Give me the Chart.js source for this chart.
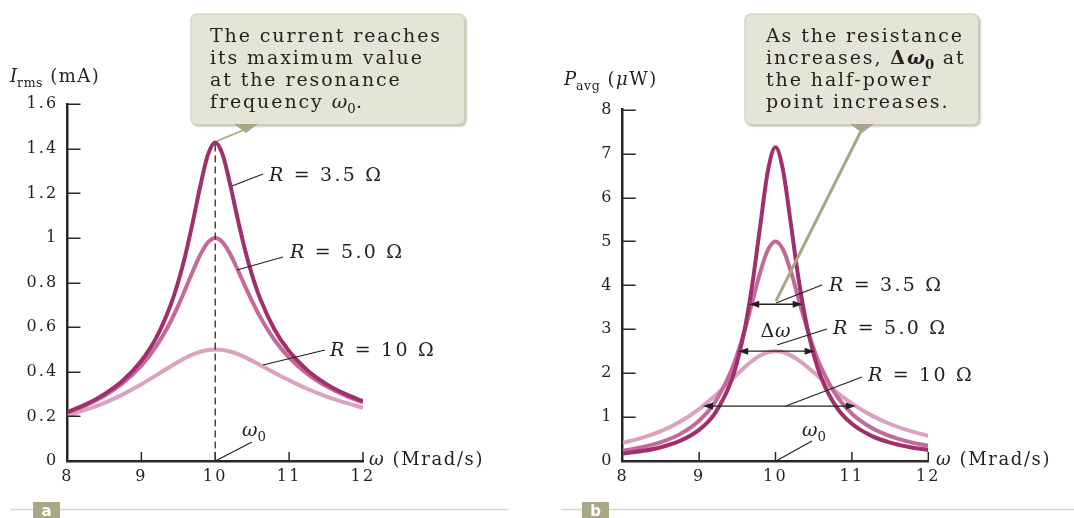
<!DOCTYPE html>
<html>
<head>
<meta charset="utf-8">
<script src="https://cdn.jsdelivr.net/npm/chart.js@4.4.1/dist/chart.umd.min.js"></script>
<style>
  html, body { margin: 0; padding: 0; background: #fff; }
  #wrap { position: relative; width: 1074px; height: 518px; overflow: hidden; }
  canvas { position: absolute; top: 0; }
</style>
</head>
<body>
<div id="wrap">
  <canvas id="chartA" width="537" height="518" style="left:0;width:537px;height:518px"></canvas>
  <canvas id="chartB" width="537" height="518" style="left:537px;width:537px;height:518px"></canvas>
</div>
<script>
// angular frequency, Mrad/s
const omega = [8, 8.25, 8.5, 8.75, 9, 9.2, 9.4, 9.5, 9.6, 9.7, 9.8, 9.9, 10,
  10.1, 10.2, 10.3, 10.4, 10.5, 10.6, 10.8, 11, 11.25, 11.5, 11.75, 12];

// I_rms (mA) for R = 3.5, 5.0, 10 ohm
const irms35 = [0.220, 0.254, 0.300, 0.361, 0.450, 0.552, 0.703, 0.805, 0.930, 1.078, 1.237, 1.373, 1.429,
  1.374, 1.243, 1.091, 0.951, 0.833, 0.735, 0.591, 0.492, 0.406, 0.346, 0.302, 0.268];
const irms50 = [0.217, 0.250, 0.293, 0.350, 0.428, 0.514, 0.628, 0.698, 0.775, 0.854, 0.927, 0.980, 1.000,
  0.981, 0.930, 0.861, 0.787, 0.716, 0.651, 0.544, 0.464, 0.390, 0.336, 0.295, 0.263];
const irms100 = [0.203, 0.230, 0.261, 0.299, 0.344, 0.384, 0.425, 0.445, 0.463, 0.478, 0.490, 0.498, 0.500,
  0.498, 0.491, 0.480, 0.466, 0.449, 0.432, 0.396, 0.362, 0.323, 0.290, 0.263, 0.239];

// P_avg (uW) for R = 3.5, 5.0, 10 ohm
const pavg35 = [0.169, 0.226, 0.314, 0.457, 0.708, 1.068, 1.730, 2.268, 3.025, 4.064, 5.358, 6.599, 7.143,
  6.609, 5.411, 4.169, 3.166, 2.426, 1.892, 1.222, 0.847, 0.577, 0.419, 0.319, 0.251];
const pavg50 = [0.235, 0.313, 0.429, 0.612, 0.916, 1.320, 1.974, 2.435, 3.000, 3.646, 4.298, 4.806, 5.000,
  4.810, 4.322, 3.705, 3.095, 2.560, 2.119, 1.482, 1.077, 0.761, 0.564, 0.435, 0.346];
const pavg100 = [0.412, 0.527, 0.682, 0.895, 1.183, 1.473, 1.807, 1.979, 2.143, 2.288, 2.402, 2.475, 2.500,
  2.476, 2.406, 2.299, 2.167, 2.019, 1.866, 1.569, 1.308, 1.045, 0.843, 0.690, 0.573];

// half-power widths (arrows in b)
const halfLevel = [3.57, 2.5, 1.25];
const halfLo = [9.656, 9.512, 9.05];
const halfHi = [10.356, 10.512, 11.05];

const seriesNames = ['R = 3.5 Ω', 'R = 5.0 Ω', 'R = 10 Ω'];
const xTicks = [8, 9, 10, 11, 12];
const yTicksA = [0, 0.2, 0.4, 0.6, 0.8, 1, 1.2, 1.4, 1.6];
const yLabelsA = ['0', '0.2', '0.4', '0.6', '0.8', '1', '1.2', '1.4', '1.6'];
const yTicksB = [0, 1, 2, 3, 4, 5, 6, 7, 8];
const yLabelsB = ['0', '1', '2', '3', '4', '5', '6', '7', '8'];

const SERIF = '"DejaVu Serif", "Liberation Serif", serif';
const TXT = '#231f20';
const AXIS = '#2a2627';
const OLIVE = '#a8a787';
const colors = ['#a0306c', '#c4699a', '#dba2c0'];
const OFF_B = 537;

// parts: [text, style]; style letters: i italic, b bold, s subscript
function richText(ctx, parts, x, y, size, align, spacing) {
  const sp = spacing === undefined ? 2 : spacing;
  ctx.save();
  ctx.fillStyle = TXT;
  ctx.textBaseline = 'alphabetic';
  ctx.textAlign = 'left';
  const setFont = st => {
    const sub = st.includes('s');
    ctx.font = (st.includes('i') ? 'italic ' : '') + (st.includes('b') ? 'bold ' : '') +
      (sub ? size * 0.7 : size) + 'px ' + SERIF;
    ctx.letterSpacing = (sub ? 0.5 : sp) + 'px';
  };
  const adv = (p, i) => {
    setFont(p[1] || '');
    let w = ctx.measureText(p[0]).width;
    const nx = parts[i + 1];
    if (nx && (nx[1] || '').includes('s')) w -= sp;
    return w;
  };
  let w = 0;
  parts.forEach((p, i) => { w += adv(p, i); });
  let cx = align === 'center' ? x - w / 2 : align === 'right' ? x - w : x;
  parts.forEach((p, i) => {
    const st = p[1] || '';
    const a = adv(p, i);
    ctx.fillText(p[0], cx, st.includes('s') ? y + size * 0.25 : y);
    cx += a;
  });
  ctx.restore();
}

function line(ctx, x0, y0, x1, y1, color, w) {
  ctx.save();
  ctx.strokeStyle = color; ctx.lineWidth = w;
  ctx.beginPath(); ctx.moveTo(x0, y0); ctx.lineTo(x1, y1); ctx.stroke();
  ctx.restore();
}

function callout(ctx, x0, y0, x1, y1, wx, tail, lines, tx) {
  ctx.save();
  ctx.shadowColor = 'rgba(60,60,40,0.35)';
  ctx.shadowOffsetX = 1.5; ctx.shadowOffsetY = 1.5; ctx.shadowBlur = 2;
  ctx.fillStyle = '#e5e5d7';
  ctx.beginPath(); ctx.roundRect(x0, y0, x1 - x0, y1 - y0, 6); ctx.fill();
  ctx.restore();
  ctx.save();
  ctx.strokeStyle = '#cfcfba'; ctx.lineWidth = 1;
  ctx.beginPath(); ctx.roundRect(x0 + 0.5, y0 + 0.5, x1 - x0 - 1, y1 - y0 - 1, 6); ctx.stroke();
  ctx.fillStyle = OLIVE;
  ctx.beginPath(); ctx.moveTo(wx - 12, y1 - 1); ctx.lineTo(wx + 12, y1 - 1); ctx.lineTo(wx, y1 + 8); ctx.closePath(); ctx.fill();
  ctx.restore();
  line(ctx, wx, y1 + 4, tail[0], tail[1], OLIVE, tail[2]);
  lines.forEach((ln, i) => richText(ctx, ln, tx, 41.7 + i * 22.2, 19, 'left', 1.9));
}

function innerTicks(chart, yTicks) {
  const ctx = chart.ctx, sx = chart.scales.x, sy = chart.scales.y;
  const a = chart.chartArea;
  ctx.save();
  ctx.strokeStyle = AXIS; ctx.lineWidth = 1.5;
  yTicks.slice(1).forEach(v => {
    const py = Math.round(sy.getPixelForValue(v)) + 0.25;
    ctx.beginPath(); ctx.moveTo(a.left, py); ctx.lineTo(a.left + 13, py); ctx.stroke();
  });
  xTicks.slice(1).forEach(v => {
    const px = sx.getPixelForValue(v);
    ctx.beginPath(); ctx.moveTo(px, a.bottom); ctx.lineTo(px, a.bottom - 9); ctx.stroke();
  });
  ctx.restore();
}

function panelTag(ctx, letter, bx, lx0, lx1) {
  line(ctx, lx0, 509.5, lx1, 509.5, '#d8d8c4', 1.5);
  ctx.save();
  ctx.fillStyle = OLIVE;
  ctx.fillRect(bx, 502, 27, 16);
  ctx.fillStyle = '#fff';
  ctx.font = 'bold 15px "DejaVu Sans", sans-serif';
  ctx.textAlign = 'center'; ctx.textBaseline = 'alphabetic';
  ctx.fillText(letter, bx + 13.5, 516);
  ctx.restore();
}

function arrowHead(ctx, x, y, dir) {
  ctx.beginPath();
  ctx.moveTo(x, y); ctx.lineTo(x - dir * 10, y - 3.5); ctx.lineTo(x - dir * 10, y + 3.5); ctx.closePath();
  ctx.fill();
}

const annoA = {
  id: 'annoA',
  beforeDraw(chart) { chart.ctx.letterSpacing = '2.2px'; },
  afterDraw(chart) {
    const ctx = chart.ctx, sx = chart.scales.x, sy = chart.scales.y;
    ctx.letterSpacing = '0px';
    innerTicks(chart, yTicksA);
    // dashed line at the resonance frequency
    const k = irms35.indexOf(Math.max(...irms35));
    const xr = sx.getPixelForValue(omega[k]);
    ctx.save();
    ctx.setLineDash([7, 4]); ctx.strokeStyle = '#3a3a3a'; ctx.lineWidth = 1.4;
    ctx.beginPath(); ctx.moveTo(xr, sy.getPixelForValue(irms35[k]) + 2); ctx.lineTo(xr, sy.getPixelForValue(0)); ctx.stroke();
    ctx.restore();

    richText(ctx, [['I', 'i'], ['rms', 's'], [' (mA)']], 10, 82, 18, 'left', 1.5);
    richText(ctx, [['ω', 'i'], [' (Mrad/s)']], 369, 465, 18, 'left', 1.6);

    line(ctx, 232, 186, 263, 174, TXT, 1.2);
    richText(ctx, [['R', 'i'], [' = 3.5 Ω']], 269, 181, 19, 'left', 2.2);
    line(ctx, 237, 270, 283, 257, TXT, 1.2);
    richText(ctx, [['R', 'i'], [' = 5.0 Ω']], 290, 258, 19, 'left', 2.2);
    line(ctx, 263, 365, 325, 350, TXT, 1.2);
    richText(ctx, [['R', 'i'], [' = 10 Ω']], 330, 355.5, 19, 'left', 2.2);
    line(ctx, xr, sy.getPixelForValue(0), 252, 442, TXT, 1.2);
    richText(ctx, [['ω', 'i'], ['0', 's']], 242, 436, 19, 'left', 1);

    callout(ctx, 190.5, 13.5, 465, 125, 246, [217, 141, 1.8], [
      [['The current reaches']],
      [['its maximum value']],
      [['at the resonance']],
      [['frequency '], ['ω', 'i'], ['0', 's'], ['.']]
    ], 210);
    panelTag(ctx, 'a', 33, 10, 509);
  }
};

const annoB = {
  id: 'annoB',
  beforeDraw(chart) { chart.ctx.letterSpacing = '2.2px'; },
  afterDraw(chart) {
    const ctx = chart.ctx, sx = chart.scales.x, sy = chart.scales.y;
    ctx.letterSpacing = '0px';
    innerTicks(chart, yTicksB);
    // half-power width arrows
    ctx.save();
    ctx.strokeStyle = TXT; ctx.fillStyle = TXT; ctx.lineWidth = 1.3;
    halfLevel.forEach((lv, i) => {
      const py = sy.getPixelForValue(lv);
      const x0 = sx.getPixelForValue(halfLo[i]), x1 = sx.getPixelForValue(halfHi[i]);
      ctx.beginPath(); ctx.moveTo(x0 + 4, py); ctx.lineTo(x1 - 4, py); ctx.stroke();
      arrowHead(ctx, x0, py, -1);
      arrowHead(ctx, x1, py, 1);
    });
    ctx.restore();

    ctx.save();
    ctx.translate(-OFF_B, 0);
    richText(ctx, [['P', 'i'], ['avg', 's'], [' ('], ['μ', 'i'], ['W)']], 564, 85, 18, 'left', 1.5);
    richText(ctx, [['ω', 'i'], [' (Mrad/s)']], 936, 465, 18, 'left', 1.6);

    callout(ctx, 744.5, 13.5, 979, 125, 862, [776, 301, 3], [
      [['As the resistance']],
      [['increases, '], ['Δ', 'b'], ['ω', 'bi'], ['0', 'bs'], [' at']],
      [['the half-power']],
      [['point increases.']]
    ], 766);

    line(ctx, 776, 303, 822, 285, TXT, 1.2);
    richText(ctx, [['R', 'i'], [' = 3.5 Ω']], 829, 291, 19, 'left', 2.2);
    richText(ctx, [['Δ'], ['ω', 'i']], 776, 337, 19, 'center', 1);
    line(ctx, 777, 345, 827, 329, TXT, 1.2);
    richText(ctx, [['R', 'i'], [' = 5.0 Ω']], 833, 334, 19, 'left', 2.2);
    line(ctx, 786, 406, 862, 377, TXT, 1.2);
    richText(ctx, [['R', 'i'], [' = 10 Ω']], 868, 381, 19, 'left', 2.2);
    line(ctx, 776, 461, 812, 441, TXT, 1.2);
    richText(ctx, [['ω', 'i'], ['0', 's']], 802, 436, 19, 'left', 1);

    panelTag(ctx, 'b', 582, 561, 1074);
    ctx.restore();
  }
};

function makeChart(id, series, yTicks, yLabels, box, plugin) {
  const datasets = series.map((s, i) => ({
    label: seriesNames[i],
    data: omega.map((w, k) => ({ x: w, y: s[k] })),
    borderColor: colors[i],
    borderWidth: 4,
    pointRadius: 0,
    fill: false,
    cubicInterpolationMode: 'monotone'
  }));
  return new Chart(document.getElementById(id), {
    type: 'line',
    data: { datasets: datasets },
    options: {
      responsive: false,
      animation: false,
      events: [],
      layout: { padding: { left: 0, top: box.top, right: box.right, bottom: 27 } },
      plugins: { legend: { display: false }, tooltip: { enabled: false } },
      scales: {
        x: {
          type: 'linear', min: 8, max: 12,
          afterBuildTicks: s => { s.ticks = xTicks.map(v => ({ value: v })); },
          afterFit: s => { s.height = 30; },
          grid: { display: false, drawTicks: false },
          border: { display: true, color: AXIS, width: 2.5 },
          ticks: { color: TXT, font: { family: SERIF, size: 16 }, padding: 6, maxRotation: 0, autoSkip: false,
            callback: v => String(v) }
        },
        y: {
          type: 'linear', min: 0, max: yTicks[yTicks.length - 1],
          afterBuildTicks: s => { s.ticks = yTicks.map(v => ({ value: v })); },
          afterFit: s => { s.width = box.left; },
          grid: { display: false, drawTicks: false },
          border: { display: true, color: AXIS, width: 2.5 },
          ticks: { color: TXT, font: { family: SERIF, size: 16 }, padding: 9, autoSkip: false,
            callback: (v, i) => yLabels[i] }
        }
      }
    },
    plugins: [plugin]
  });
}

makeChart('chartA', [irms35, irms50, irms100], yTicksA, yLabelsA,
  { left: 67.5, top: 104.3, right: 174 }, annoA);
makeChart('chartB', [pavg35, pavg50, pavg100], yTicksB, yLabelsB,
  { left: 85.7, top: 109.7, right: 145.7 }, annoB);
</script>
</body>
</html>
